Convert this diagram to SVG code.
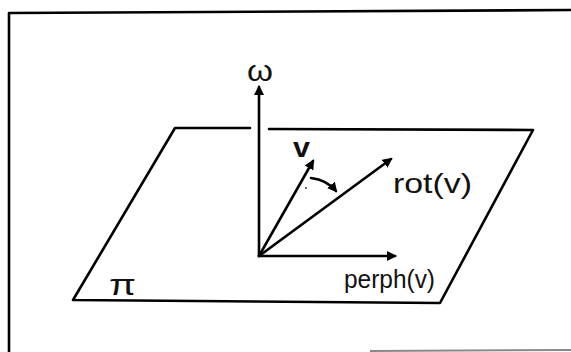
<svg xmlns="http://www.w3.org/2000/svg" width="571" height="352" viewBox="0 0 571 352">
<style>
.ln{fill:none;stroke:#000;stroke-width:2.6;stroke-linecap:round;stroke-linejoin:round}
.lbl{font-family:"Liberation Sans","DejaVu Sans",sans-serif;fill:#111}
</style>
<defs>
<marker id="ah" markerWidth="10" markerHeight="10" refX="8" refY="5" orient="auto" markerUnits="userSpaceOnUse">
<path d="M0,0 L10,5 L0,10 z" fill="#000"/>
</marker>
</defs>
<rect width="571" height="352" fill="#fff"/>
<g id="frame">
<path class="ln" d="M9,352 L9,13 L571,10"/>
<line x1="370" y1="351" x2="571" y2="350" stroke="#888" stroke-width="2"/>
</g>
<g id="plane">
<path class="ln" d="M250,128 L175,128 L73,300 L440,303 L533,130 L269,129"/>
<text class="lbl" x="109" y="295" font-size="30" textLength="27" lengthAdjust="spacingAndGlyphs">π</text>
</g>
<g id="connectors">
<line class="ln" x1="259" y1="256" x2="259" y2="87" marker-end="url(#ah)"/>
<line class="ln" x1="259" y1="256" x2="313" y2="161" marker-end="url(#ah)"/>
<line class="ln" x1="259" y1="256" x2="391" y2="159" marker-end="url(#ah)"/>
<line class="ln" x1="259" y1="256" x2="395" y2="256" marker-end="url(#ah)"/>
<path class="ln" d="M311,178 Q327,180 336,191" marker-end="url(#ah)"/>
<circle cx="306" cy="188" r="1" fill="#444"/>
</g>
<g id="labels">
<text class="lbl" x="247" y="81" font-size="30" textLength="26" lengthAdjust="spacingAndGlyphs">ω</text>
<text class="lbl" x="293" y="157" font-size="28" font-weight="bold" textLength="17" lengthAdjust="spacingAndGlyphs">v</text>
<text class="lbl" x="393" y="193" font-size="28" textLength="79" lengthAdjust="spacingAndGlyphs">rot(v)</text>
<text class="lbl" x="344" y="288" font-size="26" textLength="91" lengthAdjust="spacingAndGlyphs">perph(v)</text>
</g>
</svg>
